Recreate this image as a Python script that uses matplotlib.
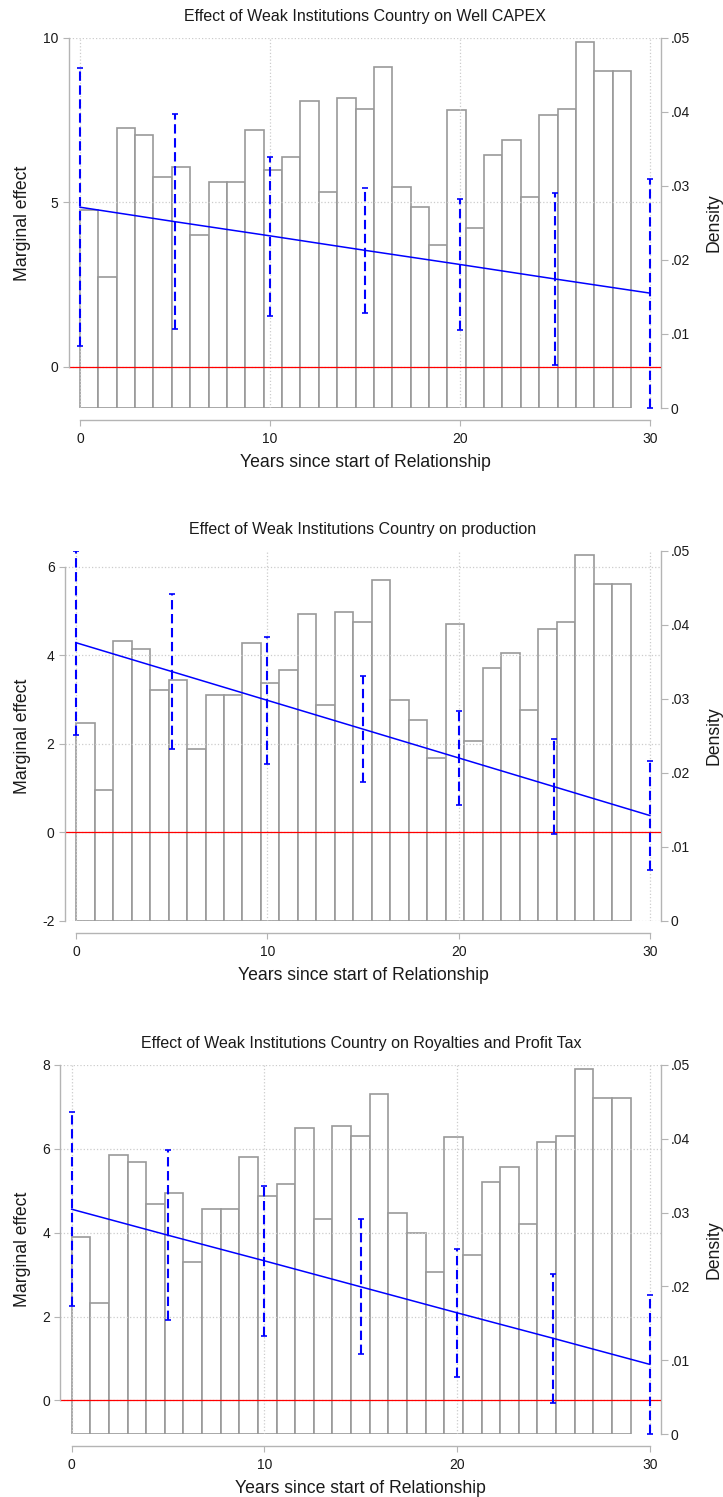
import numpy as np
import matplotlib.pyplot as plt
from matplotlib.ticker import FuncFormatter
from matplotlib.transforms import blended_transform_factory

plt.rcParams['font.family'] = ['Liberation Sans', 'DejaVu Sans']
plt.rcParams['axes.unicode_minus'] = False

# histogram of years since start of relationship (density, right axis), same in every panel
hist_density = [0.0267, 0.0177, 0.0378, 0.0368, 0.0312, 0.0326, 0.0233, 0.0305, 0.0305, 0.0375,
                0.0322, 0.0339, 0.0415, 0.0292, 0.0418, 0.0404, 0.0461, 0.0299, 0.0272, 0.0220,
                0.0402, 0.0243, 0.0342, 0.0362, 0.0285, 0.0395, 0.0404, 0.0494, 0.0455, 0.0455]
hist_edges = np.linspace(0, 29, 31)

years = [0, 5, 10, 15, 20, 25, 30]

titles = [
    "Effect of Weak Institutions Country on Well CAPEX",
    "Effect of Weak Institutions Country on production",
    "Effect of Weak Institutions Country on Royalties and Profit Tax",
]

capex_me = [4.85, 4.41, 3.98, 3.54, 3.11, 2.67, 2.24]
capex_lo = [0.63, 1.16, 1.56, 1.63, 1.11, 0.05, -1.25]
capex_hi = [9.07, 7.67, 6.39, 5.44, 5.10, 5.28, 5.72]

prod_me = [4.28, 3.63, 2.98, 2.33, 1.68, 1.03, 0.38]
prod_lo = [2.20, 1.89, 1.54, 1.135, 0.62, -0.045, -0.85]
prod_hi = [6.35, 5.37, 4.41, 3.53, 2.74, 2.10, 1.61]

tax_me = [4.56, 3.94, 3.33, 2.71, 2.09, 1.48, 0.86]
tax_lo = [2.26, 1.91, 1.54, 1.10, 0.56, -0.07, -0.80]
tax_hi = [6.89, 5.98, 5.12, 4.32, 3.61, 3.02, 2.51]

W, H = 723, 1497
fig = plt.figure(figsize=(W / 100, H / 100), dpi=100)

AXIS_GRAY = '#b4b4b4'
TEXT = '#1a1a1a'


def draw_panel(left_px, top_px, bottom_px, title, me, lo, hi, ylim, yticks):
    rect = [left_px / W, 1 - bottom_px / H, (661 - left_px) / W, (bottom_px - top_px) / H]
    ax = fig.add_axes(rect)
    ax2 = ax.twinx()
    ax.set_zorder(ax2.get_zorder() + 1)
    ax.patch.set_visible(False)

    # histogram underneath
    ax2.bar(hist_edges[:-1], hist_density, width=np.diff(hist_edges), align='edge',
            facecolor='white', edgecolor='#999999', linewidth=1.2)
    ax2.set_ylim(0, 0.05)
    ax2.set_yticks([0, 0.01, 0.02, 0.03, 0.04, 0.05])
    ax2.yaxis.set_major_formatter(FuncFormatter(
        lambda v, _: '0' if v == 0 else f'{v:.2f}'.lstrip('0')))
    for s in ['left', 'top', 'bottom']:
        ax2.spines[s].set_visible(False)
    ax2.spines['right'].set_color(AXIS_GRAY)
    ax2.spines['right'].set_linewidth(1.0)
    ax2.tick_params(axis='y', length=5, width=0.8, color=AXIS_GRAY, labelsize=10,
                    labelcolor=TEXT, pad=2)
    ax2.set_ylabel('Density', fontsize=12.7, color=TEXT)
    ax2.yaxis.set_label_coords(705 / W, 0.5,
                               transform=blended_transform_factory(fig.transFigure, ax2.transAxes))

    # marginal effect with confidence interval
    ax.axhline(0, color='red', lw=0.9, zorder=2)
    ax.vlines(years, lo, hi, colors='blue', linestyles=(0, (4.5, 2.2)), lw=1.5, zorder=3)
    ax.plot(years, lo, ls='none', marker='_', ms=5, mew=1.2, color='blue', zorder=3)
    ax.plot(years, hi, ls='none', marker='_', ms=5, mew=1.2, color='blue', zorder=3)
    ax.plot(years, me, color='blue', lw=1.1, zorder=4)

    ax.set_xlim(-0.58, 30.58)
    ax.set_ylim(*ylim)
    ax.set_xticks([0, 10, 20, 30])
    ax.set_yticks(yticks)
    ax.grid(True, ls=':', color='#cccccc', lw=0.9)
    ax.set_axisbelow(True)

    ax.spines['top'].set_visible(False)
    ax.spines['right'].set_visible(False)
    ax.spines['left'].set_bounds(yticks[0], yticks[-1])
    ax.spines['bottom'].set_bounds(0, 30)
    ax.spines['bottom'].set_position(('outward', 8.3))
    for s in ['left', 'bottom']:
        ax.spines[s].set_color(AXIS_GRAY)
        ax.spines[s].set_linewidth(1.0)
    ax.tick_params(length=4.5, width=0.8, color=AXIS_GRAY, labelsize=10, labelcolor=TEXT, pad=3)
    ax.tick_params(axis='x', pad=4.5)

    ax.set_title(title, fontsize=11.5, color=TEXT, pad=12)
    ax.set_xlabel('Years since start of Relationship', fontsize=12.7, color=TEXT, labelpad=6)
    ax.set_ylabel('Marginal effect', fontsize=12.7, color=TEXT)
    ax.yaxis.set_label_coords(31 / W, 0.5,
                              transform=blended_transform_factory(fig.transFigure, ax.transAxes))


draw_panel(69, 37.7, 408, titles[0], capex_me, capex_lo, capex_hi, (-1.25, 10), [0, 5, 10])
draw_panel(65, 551, 921, titles[1], prod_me, prod_lo, prod_hi, (-2, 6.35), [-2, 0, 2, 4, 6])
draw_panel(60.5, 1065, 1434, titles[2], tax_me, tax_lo, tax_hi, (-0.8, 8), [0, 2, 4, 6, 8])

fig.savefig('out.png', dpi=100)
